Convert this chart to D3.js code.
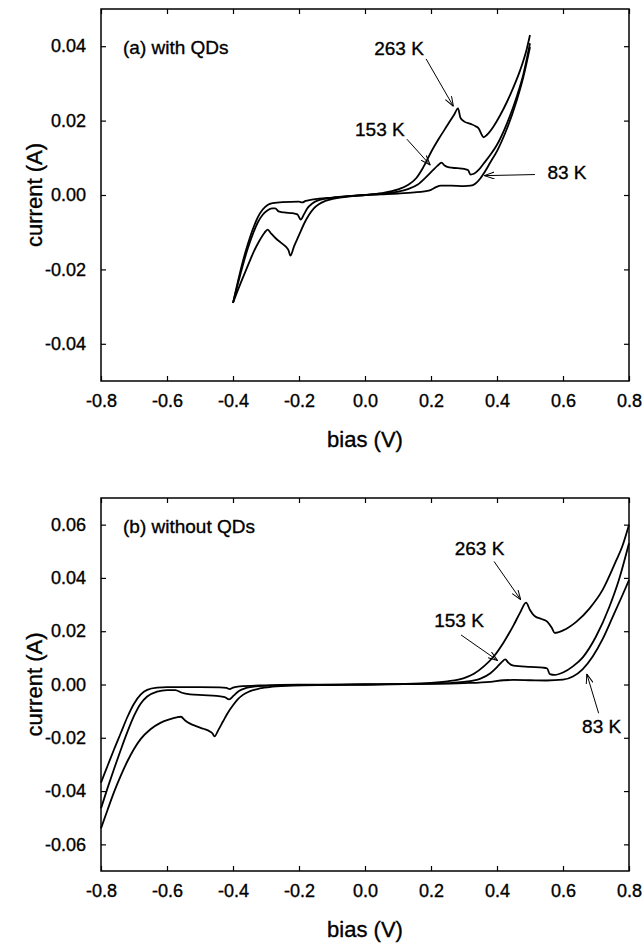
<!DOCTYPE html>
<html>
<head>
<meta charset="utf-8">
<script src="https://cdn.jsdelivr.net/npm/d3@7"></script>
<style>
  body { margin: 0; background: #fff; }
  text { font-family: "Liberation Sans", Arial, sans-serif; fill: #000; stroke: #000; stroke-width: 0.35px; }
  .axis-title { font-size: 22px; }
  .panel-label { font-size: 19px; }
  .note-text { font-size: 19px; }
</style>
</head>
<body>
<div id="chart"></div>
<script>
// bias ticks shared by both panels
var biasTicks = [-0.8, -0.6, -0.4, -0.2, 0.0, 0.2, 0.4, 0.6, 0.8];

// (a) with QDs  -- [bias (V), current (A)]
var currentTicksA = [-0.04, -0.02, 0.00, 0.02, 0.04];
var qd263 = [[-0.4,-0.029],[-0.385,-0.0255],[-0.37,-0.0222],[-0.355,-0.019],[-0.34,-0.0158],[-0.32,-0.0123],[-0.305,-0.0102],[-0.295,-0.0093],[-0.285,-0.0103],[-0.27,-0.0117],[-0.255,-0.0128],[-0.24,-0.0139],[-0.232,-0.0148],[-0.226,-0.0163],[-0.215,-0.0138],[-0.2,-0.0108],[-0.185,-0.0078],[-0.17,-0.0054],[-0.155,-0.0036],[-0.14,-0.0025],[-0.12,-0.0016],[-0.09,-0.0009],[-0.05,-0.0004],[0,0],[0.05,0.0005],[0.1,0.0015],[0.13,0.0027],[0.155,0.0045],[0.175,0.0072],[0.2,0.0115],[0.225,0.0153],[0.25,0.0188],[0.27,0.0216],[0.282,0.0233],[0.289,0.0208],[0.3,0.0198],[0.32,0.0191],[0.335,0.0185],[0.345,0.0178],[0.352,0.0165],[0.359,0.0155],[0.37,0.0162],[0.39,0.0185],[0.41,0.0215],[0.43,0.025],[0.45,0.029],[0.47,0.0335],[0.49,0.0392],[0.5,0.043]];
var qd153 = [[-0.4,-0.029],[-0.385,-0.0238],[-0.37,-0.0188],[-0.355,-0.0143],[-0.34,-0.0105],[-0.325,-0.0074],[-0.31,-0.0053],[-0.295,-0.0041],[-0.282,-0.0036],[-0.272,-0.0036],[-0.262,-0.0044],[-0.245,-0.0047],[-0.22,-0.0049],[-0.205,-0.0052],[-0.195,-0.0066],[-0.185,-0.0052],[-0.175,-0.0036],[-0.16,-0.0023],[-0.14,-0.0014],[-0.1,-0.0008],[-0.05,-0.0003],[0,0],[0.05,0.0003],[0.1,0.0009],[0.13,0.0016],[0.16,0.0028],[0.185,0.0048],[0.205,0.0066],[0.22,0.0079],[0.232,0.0087],[0.24,0.008],[0.255,0.0074],[0.28,0.0072],[0.3,0.007],[0.312,0.0067],[0.32,0.0055],[0.33,0.0057],[0.345,0.0068],[0.36,0.0085],[0.38,0.0108],[0.4,0.0135],[0.43,0.0192],[0.46,0.0265],[0.48,0.0325],[0.5,0.0408]];
var qd83 = [[-0.4,-0.029],[-0.385,-0.0232],[-0.37,-0.0178],[-0.355,-0.0132],[-0.34,-0.0092],[-0.325,-0.006],[-0.31,-0.0039],[-0.295,-0.0027],[-0.28,-0.0022],[-0.25,-0.0019],[-0.2,-0.0018],[-0.19,-0.002],[-0.18,-0.0016],[-0.165,-0.0013],[-0.14,-0.001],[-0.1,-0.0007],[-0.05,-0.0003],[0,0],[0.05,0.0002],[0.1,0.0004],[0.15,0.0007],[0.18,0.001],[0.2,0.0014],[0.215,0.0021],[0.23,0.0025],[0.26,0.0025],[0.3,0.0024],[0.32,0.0025],[0.335,0.0031],[0.35,0.0045],[0.365,0.0065],[0.38,0.0088],[0.4,0.0118],[0.43,0.0178],[0.46,0.0255],[0.48,0.0318],[0.5,0.0398]];

// (b) without QDs
var currentTicksB = [-0.06, -0.04, -0.02, 0.00, 0.02, 0.04, 0.06];
var noqd263 = [[-0.8,-0.054],[-0.78,-0.047],[-0.76,-0.0402],[-0.74,-0.0342],[-0.72,-0.0288],[-0.7,-0.0242],[-0.68,-0.0205],[-0.65,-0.0168],[-0.62,-0.0144],[-0.59,-0.013],[-0.57,-0.0123],[-0.558,-0.0121],[-0.545,-0.0135],[-0.53,-0.0147],[-0.51,-0.0157],[-0.49,-0.0166],[-0.47,-0.0176],[-0.462,-0.0184],[-0.456,-0.0195],[-0.445,-0.0172],[-0.43,-0.0138],[-0.415,-0.0105],[-0.4,-0.0078],[-0.385,-0.0055],[-0.37,-0.0039],[-0.35,-0.0026],[-0.32,-0.0015],[-0.28,-0.0008],[-0.22,-0.0004],[-0.1,-0.0002],[0,0],[0.1,0.0002],[0.2,0.0006],[0.25,0.0012],[0.3,0.0024],[0.33,0.004],[0.36,0.0068],[0.39,0.0105],[0.42,0.0158],[0.45,0.0222],[0.47,0.027],[0.488,0.0307],[0.5,0.028],[0.515,0.0256],[0.535,0.0246],[0.552,0.0236],[0.565,0.0215],[0.575,0.0194],[0.6,0.0203],[0.64,0.0235],[0.68,0.0285],[0.72,0.0355],[0.76,0.0462],[0.78,0.052],[0.8,0.06]];
var noqd153 = [[-0.8,-0.0465],[-0.78,-0.0388],[-0.76,-0.0315],[-0.74,-0.0245],[-0.72,-0.0178],[-0.7,-0.0118],[-0.68,-0.0072],[-0.66,-0.0045],[-0.63,-0.0027],[-0.6,-0.0021],[-0.575,-0.0021],[-0.555,-0.0031],[-0.53,-0.0037],[-0.49,-0.004],[-0.45,-0.0043],[-0.425,-0.0047],[-0.412,-0.0056],[-0.398,-0.0042],[-0.382,-0.0024],[-0.36,-0.0013],[-0.33,-0.0007],[-0.28,-0.0004],[-0.2,-0.0002],[0,0],[0.2,0.0003],[0.3,0.001],[0.35,0.0022],[0.38,0.0042],[0.4,0.0065],[0.415,0.0085],[0.425,0.0094],[0.435,0.0081],[0.45,0.0071],[0.5,0.0066],[0.54,0.0063],[0.552,0.006],[0.56,0.0039],[0.575,0.0036],[0.6,0.0045],[0.63,0.0068],[0.66,0.0102],[0.7,0.018],[0.74,0.029],[0.77,0.0395],[0.8,0.053]];
var noqd83 = [[-0.8,-0.0368],[-0.78,-0.0305],[-0.76,-0.0242],[-0.74,-0.0182],[-0.72,-0.0122],[-0.7,-0.0072],[-0.68,-0.0038],[-0.66,-0.002],[-0.63,-0.0012],[-0.6,-0.001],[-0.5,-0.001],[-0.44,-0.0011],[-0.42,-0.0013],[-0.41,-0.0017],[-0.4,-0.0012],[-0.38,-0.0007],[-0.3,-0.0003],[-0.2,-0.0001],[0,0],[0.2,0.0002],[0.3,0.0005],[0.38,0.001],[0.42,0.0016],[0.45,0.0017],[0.5,0.0016],[0.55,0.0015],[0.6,0.0018],[0.63,0.003],[0.66,0.0058],[0.69,0.0105],[0.72,0.017],[0.75,0.0252],[0.78,0.0335],[0.8,0.0392]];

// temperature labels: text anchor point and arrow (tail -> tip), in data units
var notesA = [
  { text: "263 K", at: [0.103, 0.0376], from: [0.185, 0.0366], to: [0.268, 0.0238] },
  { text: "153 K", at: [0.045, 0.0158], from: [0.127, 0.0150], to: [0.198, 0.0080] },
  { text: "83 K",  at: [0.612, 0.0042], from: [0.515, 0.0055], to: [0.362, 0.0052] }
];
var notesB = [
  { text: "263 K", at: [0.347, 0.0486], from: [0.391, 0.0462], to: [0.472, 0.0318] },
  { text: "153 K", at: [0.285, 0.0216], from: [0.291, 0.0186], to: [0.402, 0.0090] },
  { text: "83 K",  at: [0.717, -0.0182], from: [0.708, -0.0108], to: [0.672, 0.0040] }
];

var width = 644, height = 946;
var left = 101, right = 629;

var svg = d3.select("#chart").append("svg")
    .attr("width", width)
    .attr("height", height);

svg.append("defs").append("marker")
    .attr("id", "head")
    .attr("viewBox", "0 0 10 8")
    .attr("refX", 10)
    .attr("refY", 4)
    .attr("markerWidth", 10)
    .attr("markerHeight", 8)
    .attr("markerUnits", "userSpaceOnUse")
    .attr("orient", "auto")
  .append("path")
    .attr("d", "M0,0.5 L10,4 L0,7.5")
    .style("fill", "none")
    .style("stroke", "#000")
    .style("stroke-width", 1);

var x = d3.scaleLinear().domain([-0.8, 0.8]).range([left, right]);

drawPanel(9, 381, [-0.05, 0.05], currentTicksA, [qd263, qd153, qd83], "(a) with QDs", notesA);
drawPanel(498, 871, [-0.07, 0.07], currentTicksB, [noqd263, noqd153, noqd83], "(b) without QDs", notesB);

function drawPanel(top, bottom, yDomain, yTicks, curves, label, notes) {
    var y = d3.scaleLinear().domain(yDomain).range([bottom, top]);
    var g = svg.append("g");

    var line = d3.line()
        .x(function(d) { return x(d[0]); })
        .y(function(d) { return y(d[1]); })
        .curve(d3.curveMonotoneX);

    // inward ticks on all four sides
    g.append("g")
        .attr("transform", "translate(0," + bottom + ")")
        .call(d3.axisBottom(x).tickValues(biasTicks).tickSize(-5).tickPadding(13)
            .tickFormat(function(d) { return d.toFixed(1); }))
        .call(styleAxis);
    g.append("g")
        .attr("transform", "translate(0," + top + ")")
        .call(d3.axisTop(x).tickValues(biasTicks).tickSize(-5).tickFormat(""))
        .call(styleAxis);
    g.append("g")
        .attr("transform", "translate(" + left + ",0)")
        .call(d3.axisLeft(y).tickValues(yTicks).tickSize(-5).tickPadding(15)
            .tickFormat(function(d) { return d.toFixed(2); }))
        .call(styleAxis);
    g.append("g")
        .attr("transform", "translate(" + right + ",0)")
        .call(d3.axisRight(y).tickValues(yTicks).tickSize(-5).tickFormat(""))
        .call(styleAxis);

    g.append("rect")
        .attr("x", left)
        .attr("y", top)
        .attr("width", right - left)
        .attr("height", bottom - top)
        .style("fill", "none")
        .style("stroke", "#000")
        .style("stroke-width", 1.5);

    g.selectAll(".curve")
        .data(curves)
      .enter().append("path")
        .attr("class", "curve")
        .attr("d", line)
        .style("fill", "none")
        .style("stroke", "#000")
        .style("stroke-width", 1.8)
        .style("stroke-linejoin", "round");

    g.selectAll(".arrow")
        .data(notes)
      .enter().append("line")
        .attr("class", "arrow")
        .attr("x1", function(d) { return x(d.from[0]); })
        .attr("y1", function(d) { return y(d.from[1]); })
        .attr("x2", function(d) { return x(d.to[0]); })
        .attr("y2", function(d) { return y(d.to[1]); })
        .style("stroke", "#000")
        .style("stroke-width", 1)
        .attr("marker-end", "url(#head)");

    g.selectAll(".note-text")
        .data(notes)
      .enter().append("text")
        .attr("class", "note-text")
        .attr("text-anchor", "middle")
        .attr("x", function(d) { return x(d.at[0]); })
        .attr("y", function(d) { return y(d.at[1]); })
        .text(function(d) { return d.text; });

    g.append("text")
        .attr("class", "panel-label")
        .attr("x", left + 22)
        .attr("y", y(yTicks[yTicks.length - 1]) + 8)
        .text(label);

    g.append("text")
        .attr("class", "axis-title")
        .attr("text-anchor", "middle")
        .attr("x", (left + right) / 2)
        .attr("y", bottom + 66)
        .text("bias (V)");

    g.append("text")
        .attr("class", "axis-title")
        .attr("text-anchor", "middle")
        .attr("transform", "translate(42," + (top + bottom) / 2 + ") rotate(-90)")
        .text("current (A)");
}

function styleAxis(sel) {
    sel.select(".domain").remove();
    sel.selectAll(".tick line").style("stroke", "#000").style("stroke-width", 1.2);
    sel.selectAll(".tick text")
        .style("font-size", "18px")
        .style("font-family", "'Liberation Sans', Arial, sans-serif")
        .style("fill", "#000");
}
</script>
</body>
</html>
